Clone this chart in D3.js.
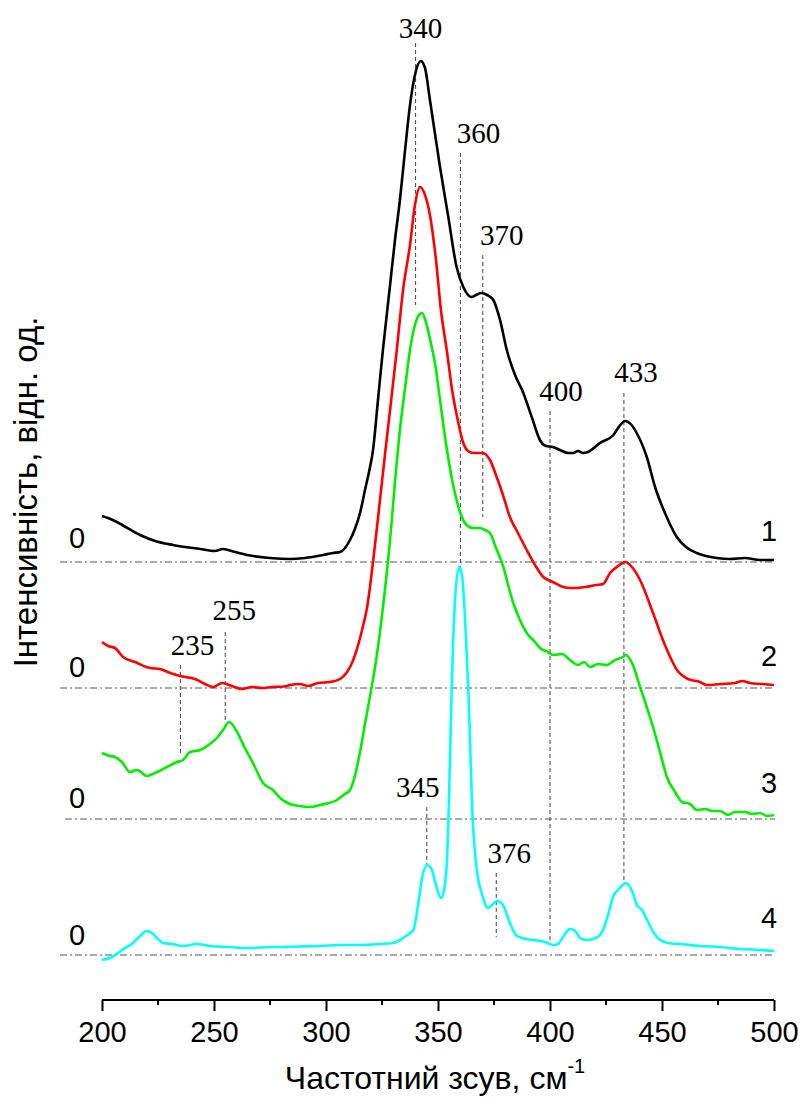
<!DOCTYPE html>
<html>
<head>
<meta charset="utf-8">
<script src="https://cdn.jsdelivr.net/npm/d3@7"></script>
<style>
  body { margin: 0; background: #fff; }
  svg { display: block; }
</style>
</head>
<body>
<svg id="chart" width="803" height="1099"></svg>
<script>
// Raman spectra: [Raman shift, cm^-1 ; intensity, a.u. above the curve's own zero]
const spectrum1 = [
  [200,0.46],[202.7,0.44],[206.6,0.40],[209,0.37],[217,0.27],[223.7,0.21],[231.7,0.17],
  [243.8,0.13],[250.4,0.11],[254,0.13],[259.4,0.10],[267.4,0.06],[275,0.04],[283.9,0.03],
  [290.6,0.04],[298.7,0.07],[303,0.09],[306.3,0.10],[308.5,0.14],[310.7,0.22],[312.9,0.33],
  [315.2,0.49],[317.4,0.72],[319.2,0.90],[321,1.12],[323.2,1.62],[325.4,2.12],[328.6,2.77],
  [330.8,3.22],[333,3.62],[335.3,4.12],[337.5,4.57],[339.7,4.87],[342.3,5.01],[344.2,4.94],
  [346.4,4.62],[350.9,3.95],[354.6,3.45],[358.3,2.95],[361.3,2.75],[365,2.65],[367,2.67],
  [369.5,2.69],[371.9,2.67],[374.7,2.62],[377.7,2.42],[380.7,2.12],[384.4,1.87],[388.1,1.69],
  [392,1.44],[395.5,1.22],[398.2,1.16],[401.2,1.15],[405.4,1.11],[408,1.09],[410.4,1.09],
  [412.5,1.11],[414.7,1.09],[417,1.10],[422.3,1.19],[428.3,1.27],[430.4,1.34],[433.5,1.41],
  [436.4,1.37],[438.7,1.29],[443.2,1.05],[446.9,0.75],[452.1,0.45],[456.6,0.25],[460.7,0.15],
  [465.5,0.09],[469.6,0.06],[474.4,0.04],[480.4,0.03],[487,0.04],[493.8,0.02],[500,0.02]
];
const spectrum2 = [
  [200,0.46],[202.7,0.42],[205.8,0.40],[209.4,0.31],[214.7,0.26],[221.4,0.20],[225.9,0.19],
  [230.4,0.15],[234.8,0.12],[241.5,0.09],[246,0.04],[249.6,0.01],[253.6,0.05],[258,0.02],
  [262.5,-0.01],[267,0.01],[271.4,0.00],[275.9,0.01],[281.3,0.015],[283.9,0.03],[288.4,0.04],
  [292,0.02],[296.4,0.05],[301.8,0.06],[306.3,0.09],[309.4,0.16],[311.6,0.25],[313.7,0.38],
  [316.1,0.58],[318.3,0.80],[321.1,1.28],[324.1,1.88],[326.3,2.33],[328.6,2.78],[331.6,3.38],
  [334.4,3.98],[337.5,4.43],[339.7,4.83],[342,5.01],[344.2,4.93],[346.4,4.73],[349.1,4.28],
  [351.3,3.78],[353.9,3.38],[356.3,2.98],[359.1,2.65],[361.3,2.45],[363.4,2.37],[365.8,2.35],
  [370,2.35],[373.2,2.28],[376.2,2.11],[379,1.93],[382.1,1.71],[385.7,1.55],[389.6,1.38],
  [393.3,1.23],[397,1.11],[401.3,1.06],[405.9,1.01],[408.9,1.00],[411.9,1.00],[415.6,1.01],
  [420.8,1.03],[423.7,1.04],[426.8,1.15],[430.4,1.22],[433.5,1.26],[436.6,1.21],[440.2,1.08],
  [446,0.75],[451.3,0.43],[456.7,0.18],[461.6,0.09],[467,0.06],[470,0.03],[475.9,0.04],
  [482.6,0.05],[485.7,0.07],[489.3,0.05],[494.6,0.04],[500,0.03]
];
const spectrum3 = [
  [200,0.66],[203.6,0.63],[205.8,0.62],[208.9,0.57],[212.5,0.47],[215.6,0.49],[220.1,0.43],
  [224.6,0.47],[229,0.52],[233.5,0.57],[236.2,0.59],[239.3,0.67],[243.8,0.69],[248.2,0.75],
  [251.3,0.81],[254,0.89],[256.8,0.97],[259.8,0.89],[263.8,0.71],[267.4,0.56],[271.9,0.36],
  [276.3,0.29],[279.5,0.21],[283.9,0.15],[288.4,0.13],[292.9,0.12],[297.3,0.14],[304.9,0.19],
  [308.5,0.25],[310.7,0.29],[313,0.44],[315.2,0.67],[317.4,0.95],[319.6,1.22],[321.9,1.52],
  [324.1,1.87],[326.3,2.29],[328.6,2.79],[330.8,3.37],[333,3.89],[335.3,4.31],[337.5,4.69],
  [339.7,4.94],[341.5,5.04],[342.9,5.06],[344.6,4.97],[346.9,4.75],[348.7,4.55],[350.9,4.19],
  [354,3.69],[356.3,3.39],[358.3,3.19],[360.3,3.04],[362.8,2.94],[365.6,2.91],[368.8,2.91],
  [371,2.89],[373.2,2.86],[375.9,2.71],[379.2,2.52],[381.3,2.34],[383.6,2.16],[386.6,1.99],
  [389.6,1.86],[393.3,1.77],[395.5,1.71],[399.1,1.67],[401.3,1.64],[405.4,1.65],[408.9,1.59],
  [412.5,1.54],[415.2,1.57],[417.9,1.52],[421.4,1.55],[425.4,1.54],[429,1.59],[432.6,1.62],
  [433.9,1.64],[437,1.54],[440.2,1.32],[442.9,1.14],[446,0.92],[449.1,0.67],[452.2,0.42],
  [455.8,0.27],[459,0.17],[462.5,0.15],[465.6,0.09],[469.2,0.10],[472.3,0.08],[475.9,0.08],
  [479.5,0.04],[482.6,0.07],[487,0.07],[490.2,0.05],[493.8,0.06],[496.9,0.03],[500,0.04]
];
const spectrum4 = [
  [200,-0.05],[204.5,-0.02],[208.9,0.05],[213.8,0.12],[217,0.19],[220,0.24],[222.3,0.22],
  [225,0.16],[227.4,0.12],[231.3,0.11],[236.2,0.09],[242.3,0.11],[248.2,0.09],[257.1,0.08],
  [264.6,0.07],[275,0.08],[288.4,0.085],[297.3,0.09],[306.3,0.10],[315.2,0.10],[324.1,0.11],
  [329.9,0.12],[334.4,0.17],[337.5,0.22],[339,0.25],[341.1,0.50],[342.9,0.77],[345,0.90],
  [346.9,0.87],[349.1,0.70],[351.3,0.57],[352.7,0.65],[354,0.95],[354.9,1.55],[356.1,2.65],
  [357.6,3.55],[359.4,3.88],[360.7,3.80],[362.1,3.35],[363.5,2.67],[365.5,1.36],[367.5,0.82],
  [369.5,0.62],[372.3,0.47],[374.1,0.50],[376.3,0.54],[379,0.50],[382.1,0.32],[384.8,0.20],
  [387.5,0.17],[392,0.15],[397.8,0.13],[401.3,0.10],[403.6,0.11],[405.8,0.18],[408.9,0.26],
  [411.2,0.24],[413.4,0.17],[416.1,0.15],[420.5,0.17],[423.7,0.25],[425.9,0.40],[428.1,0.58],
  [430.8,0.66],[433.9,0.72],[436.6,0.64],[438.8,0.50],[441.1,0.45],[443.8,0.33],[446.4,0.22],
  [449.1,0.15],[452.7,0.12],[458,0.11],[467,0.09],[475.9,0.08],[484.8,0.06],[493.8,0.05],
  [500,0.04]
];

// Vertical shift of each spectrum (a.u.) and its number
const seriesOffsets = [4.38, 3.12, 1.81, 0.45];
const seriesNumbers = ["1", "2", "3", "4"];

// Marked band positions, cm^-1
const bandPositions = [340, 360, 370, 400, 433, 235, 255, 345, 376];

// Axis ticks
const xMajorTicks = [200, 250, 300, 350, 400, 450, 500];
const xMinorTicks = [225, 275, 325, 375, 425, 475];

const xTitle = "Частотний зсув, см";
const yTitle = "Інтенсивність, відн. од.";

// ---------- drawing ----------
const svg = d3.select("#chart");
const spectra = [spectrum1, spectrum2, spectrum3, spectrum4];
const colors = ["#000000", "#ff0000", "#00ee00", "#00ffff"];

const x = d3.scaleLinear().domain([200, 500]).range([102, 774]);
const y = d3.scaleLinear().domain([0, 10]).range([1000, 0]);

const sans = "'Liberation Sans', Arial, sans-serif";
const serif = "'Liberation Serif', 'Times New Roman', serif";

// zero lines (dash-dot)
const zeroLines = svg.append("g");
seriesOffsets.forEach((off, i) => {
  zeroLines.append("line")
    .attr("x1", i === 2 ? 65 : 60).attr("x2", x(500) + 1)
    .attr("y1", y(off)).attr("y2", y(off))
    .attr("stroke", "#555").attr("stroke-width", 1)
    .attr("stroke-dasharray", "7,3,2,3");
});

// band guides: top and bottom ends in pixels, label shift
const guideLayout = {
  340: { top: 43,  bottom: 305, dx: 5,  ty: 28 },
  360: { top: 153, bottom: 567, dx: 18, ty: 133 },
  370: { top: 255, bottom: 517, dx: 19, ty: 235 },
  400: { top: 411, bottom: 945, dx: 11, ty: 391 },
  433: { top: 393, bottom: 883, dx: 12, ty: 372 },
  235: { top: 665, bottom: 755, dx: 12, ty: 645 },
  255: { top: 632, bottom: 722, dx: 9,  ty: 610 },
  345: { top: 807, bottom: 865, dx: -9, ty: 787 },
  376: { top: 873, bottom: 937, dx: 13, ty: 853 }
};
const guides = svg.append("g");
bandPositions.forEach(b => {
  const L = guideLayout[b];
  guides.append("line")
    .attr("x1", x(b)).attr("x2", x(b))
    .attr("y1", L.top).attr("y2", L.bottom)
    .attr("stroke", "#444").attr("stroke-width", 1)
    .attr("stroke-dasharray", "4,3");
  guides.append("text")
    .attr("x", x(b) + L.dx).attr("y", L.ty)
    .attr("text-anchor", "middle").attr("dominant-baseline", "central")
    .attr("font-family", serif).attr("font-size", 29)
    .attr("fill", "#000").text(b);
});

// spectra
const line = d3.line().curve(d3.curveMonotoneX);
spectra.forEach((s, i) => {
  svg.append("path")
    .attr("d", line(s.map(d => [x(d[0]), y(d[1] + seriesOffsets[i])])))
    .attr("fill", "none").attr("stroke", colors[i])
    .attr("stroke-width", 2.6).attr("stroke-linejoin", "round");
});

// "0" marks and spectrum numbers
const zeroLabelDy = [-24, -21, -21, -20];
const numberDy = [-31, -32, -36, -37];
seriesOffsets.forEach((off, i) => {
  svg.append("text")
    .attr("x", 77).attr("y", y(off) + zeroLabelDy[i])
    .attr("text-anchor", "middle").attr("dominant-baseline", "central")
    .attr("font-family", sans).attr("font-size", 29).text("0");
  svg.append("text")
    .attr("x", 769).attr("y", y(off) + numberDy[i])
    .attr("text-anchor", "middle").attr("dominant-baseline", "central")
    .attr("font-family", sans).attr("font-size", 29).text(seriesNumbers[i]);
});

// x axis
const axisY = 1000;
const xAxis = svg.append("g").attr("transform", `translate(0,${axisY})`)
  .call(d3.axisBottom(x).tickValues(xMajorTicks).tickSize(11).tickPadding(10).tickFormat(d3.format("d")));
xAxis.select(".domain").attr("stroke", "#000").attr("stroke-width", 2)
  .attr("d", `M${x(200)},0H${x(500)}`);
xAxis.selectAll(".tick line").attr("stroke", "#000").attr("stroke-width", 2);
xAxis.selectAll(".tick text").attr("font-family", sans).attr("font-size", 29).attr("fill", "#000");

svg.append("g").attr("transform", `translate(0,${axisY})`)
  .selectAll("line").data(xMinorTicks).join("line")
  .attr("x1", d => x(d)).attr("x2", d => x(d))
  .attr("y1", 0).attr("y2", 5)
  .attr("stroke", "#000").attr("stroke-width", 2);

// axis titles
const xt = svg.append("text")
  .attr("x", 435).attr("y", 1089)
  .attr("text-anchor", "middle")
  .attr("font-family", sans).attr("font-size", 32).attr("fill", "#000");
xt.append("tspan").text(xTitle);
xt.append("tspan").attr("dy", -16).attr("font-size", 20).text("-1");

svg.append("text")
  .attr("transform", "translate(37,492) rotate(-90)")
  .attr("text-anchor", "middle")
  .attr("font-family", sans).attr("font-size", 33)
  .attr("fill", "#000").text(yTitle);
</script>
</body>
</html>
